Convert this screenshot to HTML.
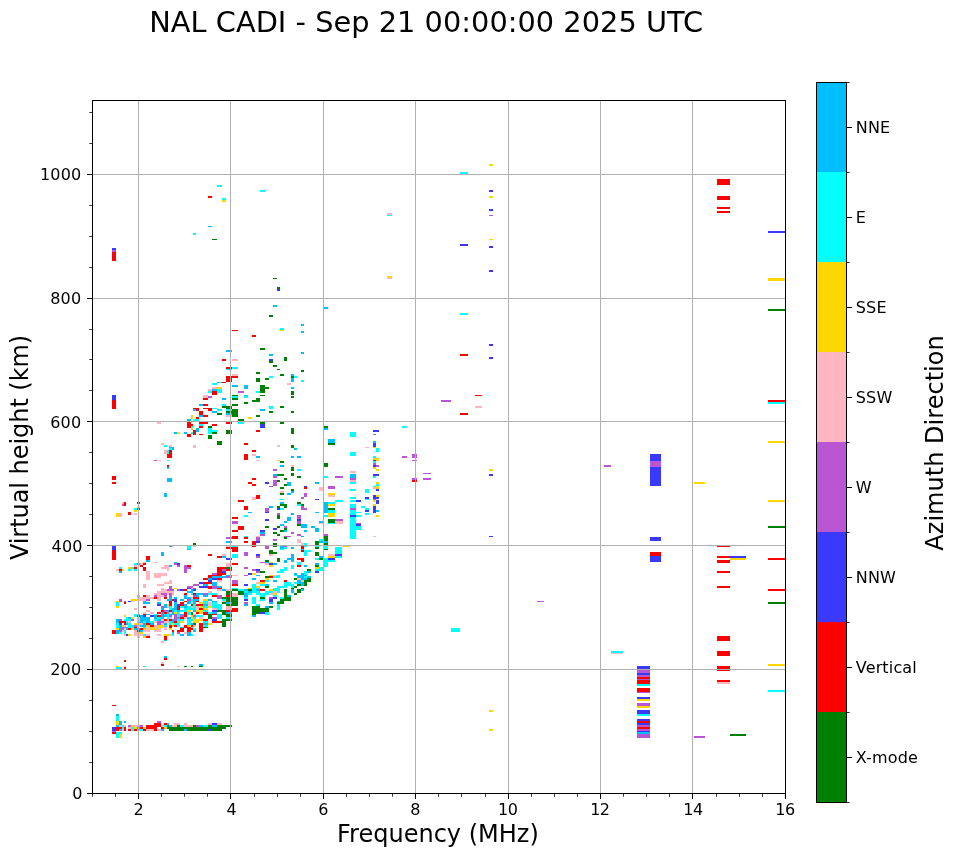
<!DOCTYPE html>
<html lang="en"><head><meta charset="utf-8"><title>NAL CADI - Sep 21 00:00:00 2025 UTC</title>
<style>html,body{margin:0;padding:0;background:#fff}body{width:958px;height:857px;overflow:hidden}svg{display:block}text{font-family:"DejaVu Sans","Liberation Sans",sans-serif;fill:#000}</style></head><body>
<svg width="958" height="857" viewBox="0 0 958 857">
<rect width="958" height="857" fill="#fff"/>
<g shape-rendering="crispEdges">
<g fill="#ff0000">
<rect x="112" y="705" width="4" height="1"/><rect x="154" y="723" width="7" height="2"/><rect x="164" y="723" width="3" height="2"/><rect x="146" y="725" width="15" height="2"/><rect x="116" y="727" width="6" height="2"/><rect x="124" y="727" width="2" height="2"/><rect x="140" y="727" width="3" height="2"/><rect x="146" y="727" width="11" height="2"/><rect x="161" y="727" width="3" height="2"/><rect x="116" y="729" width="3" height="2"/><rect x="124" y="729" width="2" height="2"/><rect x="128" y="729" width="3" height="2"/><rect x="134" y="729" width="3" height="2"/><rect x="143" y="729" width="3" height="2"/><rect x="154" y="729" width="3" height="2"/><rect x="112" y="732" width="4" height="2"/><rect x="143" y="606" width="3" height="2"/><rect x="177" y="606" width="3" height="2"/><rect x="177" y="608" width="3" height="2"/><rect x="199" y="608" width="4" height="2"/><rect x="161" y="610" width="3" height="2"/><rect x="169" y="610" width="3" height="2"/><rect x="157" y="612" width="4" height="2"/><rect x="164" y="612" width="3" height="2"/><rect x="184" y="612" width="3" height="2"/><rect x="196" y="612" width="3" height="2"/><rect x="143" y="614" width="3" height="1"/><rect x="184" y="614" width="3" height="1"/><rect x="137" y="615" width="3" height="2"/><rect x="157" y="615" width="4" height="2"/><rect x="184" y="615" width="3" height="2"/><rect x="180" y="617" width="4" height="2"/><rect x="164" y="619" width="3" height="2"/><rect x="169" y="619" width="3" height="2"/><rect x="119" y="621" width="7" height="2"/><rect x="174" y="621" width="3" height="2"/><rect x="124" y="623" width="2" height="2"/><rect x="146" y="623" width="4" height="2"/><rect x="199" y="623" width="4" height="2"/><rect x="150" y="625" width="4" height="2"/><rect x="169" y="625" width="3" height="2"/><rect x="174" y="625" width="3" height="2"/><rect x="184" y="625" width="3" height="2"/><rect x="191" y="625" width="2" height="2"/><rect x="199" y="625" width="4" height="2"/><rect x="134" y="627" width="3" height="1"/><rect x="169" y="627" width="3" height="1"/><rect x="184" y="627" width="7" height="1"/><rect x="199" y="627" width="4" height="1"/><rect x="128" y="628" width="3" height="2"/><rect x="140" y="628" width="3" height="2"/><rect x="180" y="628" width="4" height="2"/><rect x="187" y="628" width="6" height="2"/><rect x="199" y="628" width="4" height="2"/><rect x="112" y="630" width="4" height="2"/><rect x="137" y="630" width="3" height="2"/><rect x="172" y="630" width="2" height="2"/><rect x="177" y="630" width="7" height="2"/><rect x="187" y="630" width="4" height="2"/><rect x="199" y="630" width="4" height="2"/><rect x="112" y="632" width="4" height="2"/><rect x="146" y="636" width="4" height="2"/><rect x="164" y="636" width="3" height="2"/><rect x="164" y="638" width="3" height="2"/><rect x="232" y="608" width="6" height="2"/><rect x="226" y="610" width="12" height="2"/><rect x="203" y="612" width="5" height="2"/><rect x="203" y="614" width="5" height="1"/><rect x="212" y="614" width="5" height="1"/><rect x="203" y="619" width="5" height="2"/><rect x="212" y="621" width="10" height="2"/><rect x="140" y="565" width="3" height="2"/><rect x="187" y="565" width="4" height="2"/><rect x="134" y="567" width="3" height="2"/><rect x="143" y="567" width="3" height="2"/><rect x="217" y="567" width="9" height="2"/><rect x="119" y="569" width="3" height="2"/><rect x="143" y="569" width="3" height="2"/><rect x="217" y="569" width="5" height="2"/><rect x="226" y="569" width="6" height="2"/><rect x="217" y="571" width="5" height="2"/><rect x="217" y="573" width="9" height="2"/><rect x="208" y="575" width="14" height="1"/><rect x="208" y="576" width="4" height="2"/><rect x="203" y="578" width="5" height="2"/><rect x="217" y="578" width="5" height="2"/><rect x="203" y="582" width="9" height="2"/><rect x="232" y="584" width="6" height="2"/><rect x="208" y="586" width="4" height="2"/><rect x="208" y="588" width="4" height="1"/><rect x="217" y="588" width="5" height="1"/><rect x="184" y="589" width="3" height="2"/><rect x="184" y="593" width="3" height="2"/><rect x="193" y="593" width="3" height="2"/><rect x="143" y="595" width="3" height="2"/><rect x="212" y="595" width="5" height="2"/><rect x="226" y="595" width="6" height="2"/><rect x="154" y="597" width="3" height="2"/><rect x="164" y="597" width="3" height="2"/><rect x="193" y="597" width="6" height="2"/><rect x="172" y="599" width="2" height="2"/><rect x="169" y="601" width="3" height="1"/><rect x="184" y="601" width="3" height="1"/><rect x="196" y="601" width="3" height="1"/><rect x="124" y="602" width="2" height="2"/><rect x="169" y="602" width="3" height="2"/><rect x="180" y="602" width="4" height="2"/><rect x="169" y="604" width="3" height="2"/><rect x="180" y="604" width="4" height="2"/><rect x="196" y="604" width="7" height="2"/><rect x="260" y="580" width="5" height="2"/><rect x="284" y="580" width="3" height="2"/><rect x="260" y="589" width="5" height="2"/><rect x="252" y="541" width="4" height="2"/><rect x="252" y="543" width="4" height="2"/><rect x="252" y="545" width="4" height="2"/><rect x="301" y="545" width="3" height="2"/><rect x="301" y="547" width="3" height="2"/><rect x="301" y="550" width="3" height="2"/><rect x="297" y="558" width="7" height="2"/><rect x="301" y="560" width="3" height="2"/><rect x="297" y="565" width="4" height="2"/><rect x="269" y="576" width="4" height="2"/><rect x="252" y="478" width="4" height="2"/><rect x="248" y="482" width="4" height="2"/><rect x="252" y="484" width="4" height="2"/><rect x="304" y="487" width="3" height="2"/><rect x="256" y="495" width="4" height="2"/><rect x="256" y="497" width="4" height="2"/><rect x="232" y="330" width="6" height="1"/><rect x="252" y="335" width="4" height="2"/><rect x="226" y="367" width="6" height="2"/><rect x="226" y="376" width="12" height="2"/><rect x="226" y="378" width="6" height="2"/><rect x="226" y="380" width="6" height="2"/><rect x="256" y="430" width="4" height="2"/><rect x="252" y="450" width="4" height="2"/><rect x="112" y="252" width="4" height="9"/><rect x="112" y="400" width="4" height="9"/><rect x="222" y="359" width="4" height="2"/><rect x="222" y="382" width="4" height="1"/><rect x="212" y="391" width="5" height="2"/><rect x="212" y="393" width="5" height="2"/><rect x="203" y="398" width="5" height="2"/><rect x="203" y="404" width="5" height="2"/><rect x="193" y="408" width="6" height="1"/><rect x="203" y="408" width="9" height="1"/><rect x="196" y="409" width="3" height="2"/><rect x="208" y="409" width="4" height="2"/><rect x="199" y="411" width="4" height="2"/><rect x="199" y="413" width="4" height="2"/><rect x="203" y="415" width="5" height="2"/><rect x="196" y="417" width="3" height="2"/><rect x="187" y="422" width="4" height="2"/><rect x="199" y="422" width="9" height="2"/><rect x="226" y="422" width="6" height="2"/><rect x="187" y="424" width="6" height="2"/><rect x="212" y="424" width="5" height="2"/><rect x="187" y="426" width="4" height="2"/><rect x="199" y="426" width="4" height="2"/><rect x="193" y="430" width="3" height="2"/><rect x="193" y="432" width="3" height="2"/><rect x="187" y="434" width="4" height="1"/><rect x="193" y="434" width="3" height="1"/><rect x="199" y="434" width="4" height="1"/><rect x="187" y="435" width="4" height="2"/><rect x="244" y="443" width="4" height="2"/><rect x="169" y="450" width="3" height="2"/><rect x="169" y="452" width="3" height="2"/><rect x="167" y="454" width="5" height="2"/><rect x="244" y="454" width="4" height="2"/><rect x="167" y="456" width="5" height="2"/><rect x="244" y="456" width="4" height="2"/><rect x="244" y="458" width="4" height="2"/><rect x="167" y="465" width="2" height="2"/><rect x="112" y="476" width="4" height="2"/><rect x="112" y="478" width="4" height="2"/><rect x="112" y="482" width="4" height="2"/><rect x="238" y="500" width="6" height="2"/><rect x="124" y="502" width="2" height="2"/><rect x="137" y="502" width="3" height="2"/><rect x="124" y="504" width="2" height="2"/><rect x="244" y="506" width="4" height="2"/><rect x="137" y="508" width="3" height="2"/><rect x="244" y="508" width="4" height="2"/><rect x="128" y="512" width="3" height="1"/><rect x="128" y="513" width="3" height="2"/><rect x="232" y="517" width="6" height="2"/><rect x="238" y="526" width="6" height="2"/><rect x="238" y="528" width="6" height="2"/><rect x="232" y="530" width="6" height="2"/><rect x="232" y="536" width="6" height="1"/><rect x="232" y="537" width="6" height="2"/><rect x="244" y="537" width="4" height="2"/><rect x="244" y="541" width="4" height="2"/><rect x="226" y="547" width="12" height="2"/><rect x="232" y="549" width="6" height="1"/><rect x="112" y="550" width="4" height="2"/><rect x="232" y="550" width="6" height="2"/><rect x="112" y="552" width="4" height="2"/><rect x="112" y="554" width="4" height="2"/><rect x="208" y="554" width="4" height="2"/><rect x="112" y="556" width="4" height="2"/><rect x="146" y="556" width="4" height="2"/><rect x="217" y="556" width="5" height="2"/><rect x="112" y="558" width="4" height="2"/><rect x="146" y="558" width="4" height="2"/><rect x="143" y="563" width="3" height="2"/><rect x="232" y="563" width="6" height="2"/><rect x="164" y="658" width="3" height="2"/><rect x="124" y="660" width="2" height="2"/><rect x="161" y="664" width="3" height="2"/><rect x="124" y="667" width="2" height="2"/><rect x="460" y="354" width="8" height="2"/><rect x="475" y="395" width="7" height="1"/><rect x="460" y="413" width="8" height="2"/><rect x="412" y="480" width="5" height="2"/><rect x="717" y="179" width="13" height="6"/><rect x="717" y="196" width="13" height="4"/><rect x="717" y="207" width="13" height="2"/><rect x="717" y="211" width="13" height="2"/><rect x="768" y="400" width="17" height="2"/><rect x="717" y="545" width="13" height="2"/><rect x="717" y="556" width="13" height="2"/><rect x="768" y="558" width="17" height="2"/><rect x="717" y="560" width="13" height="3"/><rect x="717" y="571" width="13" height="2"/><rect x="717" y="586" width="13" height="2"/><rect x="768" y="589" width="17" height="2"/><rect x="717" y="636" width="13" height="5"/><rect x="717" y="651" width="13" height="5"/><rect x="717" y="666" width="13" height="5"/><rect x="717" y="680" width="13" height="2"/><rect x="637" y="677" width="13" height="2"/><rect x="637" y="680" width="13" height="4"/><rect x="637" y="688" width="13" height="4"/><rect x="637" y="721" width="13" height="2"/><rect x="637" y="727" width="13" height="2"/><rect x="650" y="552" width="11" height="4"/><rect x="208" y="196" width="4" height="2"/>
</g>
<g fill="#00bfff">
<rect x="116" y="714" width="3" height="2"/><rect x="119" y="721" width="3" height="2"/><rect x="124" y="721" width="2" height="2"/><rect x="119" y="723" width="3" height="2"/><rect x="167" y="723" width="2" height="2"/><rect x="116" y="725" width="3" height="2"/><rect x="169" y="725" width="3" height="2"/><rect x="199" y="725" width="4" height="2"/><rect x="212" y="725" width="5" height="2"/><rect x="137" y="727" width="3" height="2"/><rect x="119" y="729" width="3" height="2"/><rect x="161" y="729" width="3" height="2"/><rect x="184" y="729" width="3" height="2"/><rect x="164" y="606" width="3" height="2"/><rect x="174" y="606" width="3" height="2"/><rect x="184" y="606" width="3" height="2"/><rect x="161" y="608" width="3" height="2"/><rect x="172" y="608" width="5" height="2"/><rect x="167" y="610" width="2" height="2"/><rect x="172" y="610" width="2" height="2"/><rect x="177" y="610" width="3" height="2"/><rect x="193" y="610" width="3" height="2"/><rect x="161" y="612" width="3" height="2"/><rect x="167" y="612" width="2" height="2"/><rect x="172" y="612" width="2" height="2"/><rect x="146" y="614" width="4" height="1"/><rect x="169" y="614" width="5" height="1"/><rect x="180" y="614" width="4" height="1"/><rect x="140" y="615" width="3" height="2"/><rect x="154" y="615" width="3" height="2"/><rect x="161" y="615" width="6" height="2"/><rect x="128" y="617" width="3" height="2"/><rect x="140" y="617" width="10" height="2"/><rect x="154" y="617" width="3" height="2"/><rect x="161" y="617" width="3" height="2"/><rect x="177" y="617" width="3" height="2"/><rect x="187" y="617" width="4" height="2"/><rect x="116" y="619" width="3" height="2"/><rect x="140" y="619" width="10" height="2"/><rect x="157" y="619" width="4" height="2"/><rect x="172" y="619" width="2" height="2"/><rect x="116" y="621" width="3" height="2"/><rect x="140" y="621" width="3" height="2"/><rect x="146" y="621" width="4" height="2"/><rect x="172" y="621" width="2" height="2"/><rect x="126" y="623" width="2" height="2"/><rect x="143" y="623" width="3" height="2"/><rect x="150" y="623" width="4" height="2"/><rect x="164" y="623" width="3" height="2"/><rect x="191" y="623" width="2" height="2"/><rect x="119" y="625" width="3" height="2"/><rect x="140" y="625" width="6" height="2"/><rect x="119" y="627" width="3" height="1"/><rect x="124" y="627" width="2" height="1"/><rect x="180" y="627" width="4" height="1"/><rect x="119" y="628" width="3" height="2"/><rect x="126" y="628" width="2" height="2"/><rect x="134" y="628" width="3" height="2"/><rect x="116" y="630" width="3" height="2"/><rect x="140" y="630" width="3" height="2"/><rect x="193" y="630" width="3" height="2"/><rect x="116" y="632" width="3" height="2"/><rect x="172" y="632" width="2" height="2"/><rect x="187" y="632" width="4" height="2"/><rect x="180" y="634" width="4" height="2"/><rect x="187" y="634" width="4" height="2"/><rect x="164" y="640" width="3" height="1"/><rect x="212" y="612" width="5" height="2"/><rect x="226" y="612" width="6" height="2"/><rect x="203" y="623" width="5" height="2"/><rect x="169" y="565" width="3" height="2"/><rect x="119" y="571" width="3" height="2"/><rect x="226" y="575" width="6" height="1"/><rect x="212" y="576" width="14" height="2"/><rect x="208" y="578" width="4" height="2"/><rect x="212" y="582" width="5" height="2"/><rect x="203" y="584" width="5" height="2"/><rect x="212" y="584" width="5" height="2"/><rect x="217" y="586" width="5" height="2"/><rect x="191" y="589" width="2" height="2"/><rect x="222" y="589" width="4" height="2"/><rect x="244" y="589" width="4" height="2"/><rect x="187" y="591" width="6" height="2"/><rect x="248" y="591" width="4" height="2"/><rect x="196" y="593" width="7" height="2"/><rect x="244" y="593" width="4" height="2"/><rect x="184" y="595" width="3" height="2"/><rect x="196" y="595" width="3" height="2"/><rect x="203" y="595" width="5" height="2"/><rect x="244" y="595" width="4" height="2"/><rect x="169" y="597" width="3" height="2"/><rect x="174" y="597" width="3" height="2"/><rect x="184" y="597" width="7" height="2"/><rect x="167" y="599" width="5" height="2"/><rect x="180" y="599" width="4" height="2"/><rect x="193" y="599" width="6" height="2"/><rect x="208" y="599" width="4" height="2"/><rect x="143" y="601" width="3" height="1"/><rect x="187" y="601" width="4" height="1"/><rect x="193" y="601" width="3" height="1"/><rect x="212" y="601" width="5" height="1"/><rect x="143" y="602" width="7" height="2"/><rect x="157" y="602" width="4" height="2"/><rect x="174" y="602" width="3" height="2"/><rect x="187" y="602" width="4" height="2"/><rect x="193" y="602" width="3" height="2"/><rect x="226" y="602" width="6" height="2"/><rect x="164" y="604" width="3" height="2"/><rect x="174" y="604" width="3" height="2"/><rect x="184" y="604" width="3" height="2"/><rect x="203" y="604" width="5" height="2"/><rect x="244" y="604" width="4" height="2"/><rect x="273" y="580" width="4" height="2"/><rect x="297" y="580" width="4" height="2"/><rect x="297" y="582" width="7" height="2"/><rect x="265" y="584" width="4" height="2"/><rect x="301" y="584" width="3" height="2"/><rect x="256" y="589" width="4" height="2"/><rect x="291" y="589" width="3" height="2"/><rect x="301" y="589" width="3" height="2"/><rect x="291" y="591" width="3" height="2"/><rect x="287" y="595" width="4" height="2"/><rect x="277" y="601" width="3" height="1"/><rect x="269" y="602" width="4" height="2"/><rect x="265" y="606" width="4" height="2"/><rect x="252" y="615" width="4" height="2"/><rect x="319" y="541" width="9" height="2"/><rect x="280" y="545" width="4" height="2"/><rect x="280" y="547" width="4" height="2"/><rect x="291" y="547" width="3" height="2"/><rect x="301" y="549" width="3" height="1"/><rect x="291" y="554" width="3" height="2"/><rect x="291" y="556" width="3" height="2"/><rect x="319" y="556" width="4" height="2"/><rect x="287" y="558" width="7" height="2"/><rect x="284" y="560" width="3" height="2"/><rect x="291" y="560" width="3" height="2"/><rect x="265" y="562" width="4" height="1"/><rect x="284" y="562" width="3" height="1"/><rect x="273" y="563" width="4" height="2"/><rect x="315" y="563" width="4" height="2"/><rect x="304" y="565" width="3" height="2"/><rect x="307" y="571" width="4" height="2"/><rect x="294" y="573" width="3" height="2"/><rect x="301" y="573" width="3" height="2"/><rect x="256" y="575" width="4" height="1"/><rect x="297" y="575" width="10" height="1"/><rect x="297" y="576" width="7" height="2"/><rect x="307" y="576" width="4" height="2"/><rect x="252" y="578" width="4" height="2"/><rect x="301" y="578" width="6" height="2"/><rect x="323" y="428" width="5" height="2"/><rect x="328" y="439" width="7" height="2"/><rect x="328" y="441" width="7" height="2"/><rect x="373" y="441" width="3" height="2"/><rect x="350" y="474" width="6" height="2"/><rect x="350" y="476" width="6" height="2"/><rect x="323" y="502" width="5" height="2"/><rect x="323" y="504" width="5" height="2"/><rect x="323" y="506" width="5" height="2"/><rect x="323" y="508" width="5" height="2"/><rect x="323" y="510" width="5" height="2"/><rect x="376" y="510" width="3" height="2"/><rect x="323" y="512" width="5" height="1"/><rect x="280" y="465" width="4" height="2"/><rect x="273" y="474" width="4" height="2"/><rect x="287" y="482" width="4" height="2"/><rect x="315" y="482" width="4" height="2"/><rect x="287" y="484" width="4" height="2"/><rect x="291" y="491" width="3" height="2"/><rect x="287" y="493" width="4" height="2"/><rect x="280" y="502" width="4" height="2"/><rect x="269" y="506" width="4" height="2"/><rect x="248" y="512" width="4" height="1"/><rect x="315" y="512" width="4" height="1"/><rect x="291" y="513" width="3" height="2"/><rect x="287" y="517" width="4" height="2"/><rect x="287" y="519" width="4" height="2"/><rect x="284" y="521" width="3" height="2"/><rect x="319" y="521" width="4" height="2"/><rect x="280" y="524" width="4" height="2"/><rect x="301" y="524" width="6" height="2"/><rect x="301" y="526" width="6" height="2"/><rect x="311" y="526" width="4" height="2"/><rect x="315" y="528" width="4" height="2"/><rect x="284" y="530" width="3" height="2"/><rect x="304" y="530" width="3" height="2"/><rect x="315" y="530" width="4" height="2"/><rect x="260" y="532" width="5" height="2"/><rect x="301" y="536" width="3" height="1"/><rect x="273" y="305" width="4" height="2"/><rect x="323" y="307" width="5" height="2"/><rect x="301" y="324" width="3" height="2"/><rect x="301" y="331" width="3" height="2"/><rect x="226" y="350" width="6" height="2"/><rect x="301" y="352" width="3" height="2"/><rect x="269" y="354" width="4" height="2"/><rect x="291" y="374" width="3" height="2"/><rect x="291" y="378" width="3" height="2"/><rect x="291" y="380" width="3" height="2"/><rect x="232" y="385" width="6" height="2"/><rect x="244" y="385" width="4" height="2"/><rect x="244" y="387" width="4" height="2"/><rect x="291" y="387" width="3" height="2"/><rect x="244" y="395" width="4" height="1"/><rect x="260" y="409" width="5" height="2"/><rect x="226" y="413" width="6" height="2"/><rect x="294" y="448" width="3" height="2"/><rect x="256" y="456" width="4" height="2"/><rect x="291" y="456" width="3" height="2"/><rect x="297" y="456" width="4" height="2"/><rect x="217" y="382" width="5" height="1"/><rect x="212" y="389" width="5" height="2"/><rect x="222" y="398" width="4" height="2"/><rect x="199" y="404" width="4" height="2"/><rect x="193" y="409" width="3" height="2"/><rect x="212" y="411" width="5" height="2"/><rect x="199" y="415" width="4" height="2"/><rect x="187" y="419" width="4" height="2"/><rect x="196" y="428" width="3" height="2"/><rect x="196" y="430" width="3" height="2"/><rect x="174" y="432" width="3" height="2"/><rect x="184" y="432" width="3" height="2"/><rect x="169" y="447" width="5" height="1"/><rect x="172" y="448" width="2" height="2"/><rect x="167" y="467" width="2" height="2"/><rect x="167" y="478" width="5" height="2"/><rect x="167" y="480" width="5" height="2"/><rect x="164" y="493" width="3" height="2"/><rect x="164" y="495" width="3" height="2"/><rect x="226" y="541" width="6" height="2"/><rect x="169" y="545" width="3" height="2"/><rect x="187" y="549" width="4" height="1"/><rect x="161" y="552" width="3" height="2"/><rect x="161" y="554" width="3" height="2"/><rect x="222" y="556" width="4" height="2"/><rect x="146" y="560" width="4" height="2"/><rect x="174" y="562" width="3" height="1"/><rect x="137" y="563" width="3" height="2"/><rect x="164" y="656" width="3" height="2"/><rect x="199" y="664" width="4" height="2"/><rect x="637" y="732" width="13" height="2"/><rect x="208" y="226" width="4" height="1"/>
</g>
<g fill="#00ffff">
<rect x="116" y="716" width="3" height="2"/><rect x="116" y="718" width="3" height="1"/><rect x="116" y="719" width="3" height="2"/><rect x="122" y="725" width="2" height="2"/><rect x="137" y="725" width="3" height="2"/><rect x="164" y="725" width="3" height="2"/><rect x="180" y="725" width="4" height="2"/><rect x="203" y="725" width="5" height="2"/><rect x="122" y="727" width="2" height="2"/><rect x="131" y="727" width="3" height="2"/><rect x="131" y="729" width="3" height="2"/><rect x="137" y="729" width="6" height="2"/><rect x="116" y="732" width="6" height="2"/><rect x="116" y="734" width="3" height="2"/><rect x="116" y="736" width="3" height="2"/><rect x="169" y="606" width="3" height="2"/><rect x="180" y="606" width="4" height="2"/><rect x="187" y="606" width="4" height="2"/><rect x="193" y="606" width="3" height="2"/><rect x="169" y="608" width="3" height="2"/><rect x="184" y="608" width="12" height="2"/><rect x="174" y="610" width="3" height="2"/><rect x="180" y="610" width="7" height="2"/><rect x="177" y="612" width="3" height="2"/><rect x="187" y="612" width="4" height="2"/><rect x="134" y="614" width="6" height="1"/><rect x="154" y="614" width="3" height="1"/><rect x="164" y="614" width="5" height="1"/><rect x="177" y="614" width="3" height="1"/><rect x="187" y="614" width="4" height="1"/><rect x="134" y="615" width="3" height="2"/><rect x="167" y="615" width="2" height="2"/><rect x="177" y="615" width="3" height="2"/><rect x="196" y="615" width="7" height="2"/><rect x="126" y="617" width="2" height="2"/><rect x="157" y="617" width="4" height="2"/><rect x="167" y="617" width="2" height="2"/><rect x="193" y="617" width="3" height="2"/><rect x="124" y="619" width="7" height="2"/><rect x="154" y="619" width="3" height="2"/><rect x="177" y="619" width="7" height="2"/><rect x="187" y="619" width="6" height="2"/><rect x="126" y="621" width="2" height="2"/><rect x="137" y="621" width="3" height="2"/><rect x="143" y="621" width="3" height="2"/><rect x="150" y="621" width="4" height="2"/><rect x="169" y="621" width="3" height="2"/><rect x="177" y="621" width="3" height="2"/><rect x="187" y="621" width="4" height="2"/><rect x="116" y="623" width="3" height="2"/><rect x="128" y="623" width="3" height="2"/><rect x="169" y="623" width="3" height="2"/><rect x="174" y="623" width="6" height="2"/><rect x="187" y="623" width="4" height="2"/><rect x="116" y="625" width="3" height="2"/><rect x="128" y="625" width="6" height="2"/><rect x="164" y="625" width="3" height="2"/><rect x="177" y="625" width="3" height="2"/><rect x="116" y="627" width="3" height="1"/><rect x="128" y="627" width="6" height="1"/><rect x="143" y="627" width="3" height="1"/><rect x="191" y="627" width="2" height="1"/><rect x="193" y="628" width="3" height="2"/><rect x="124" y="630" width="2" height="2"/><rect x="119" y="632" width="3" height="2"/><rect x="124" y="632" width="2" height="2"/><rect x="143" y="634" width="3" height="2"/><rect x="172" y="634" width="2" height="2"/><rect x="191" y="634" width="2" height="2"/><rect x="203" y="606" width="5" height="2"/><rect x="212" y="606" width="10" height="2"/><rect x="217" y="608" width="5" height="2"/><rect x="203" y="610" width="5" height="2"/><rect x="208" y="612" width="4" height="2"/><rect x="217" y="614" width="5" height="1"/><rect x="217" y="615" width="5" height="2"/><rect x="217" y="617" width="5" height="2"/><rect x="226" y="617" width="6" height="2"/><rect x="203" y="621" width="5" height="2"/><rect x="203" y="625" width="5" height="2"/><rect x="119" y="567" width="3" height="2"/><rect x="131" y="567" width="3" height="2"/><rect x="128" y="569" width="3" height="2"/><rect x="134" y="569" width="3" height="2"/><rect x="232" y="588" width="6" height="1"/><rect x="238" y="589" width="6" height="2"/><rect x="244" y="591" width="4" height="2"/><rect x="191" y="593" width="2" height="2"/><rect x="208" y="593" width="9" height="2"/><rect x="248" y="593" width="4" height="2"/><rect x="137" y="595" width="3" height="2"/><rect x="244" y="597" width="4" height="2"/><rect x="191" y="599" width="2" height="2"/><rect x="222" y="599" width="4" height="2"/><rect x="191" y="601" width="2" height="1"/><rect x="203" y="601" width="5" height="1"/><rect x="116" y="602" width="3" height="2"/><rect x="203" y="602" width="5" height="2"/><rect x="212" y="602" width="5" height="2"/><rect x="116" y="604" width="3" height="2"/><rect x="193" y="604" width="3" height="2"/><rect x="212" y="604" width="10" height="2"/><rect x="265" y="580" width="4" height="2"/><rect x="284" y="582" width="7" height="2"/><rect x="294" y="582" width="3" height="2"/><rect x="252" y="584" width="4" height="2"/><rect x="260" y="584" width="5" height="2"/><rect x="284" y="584" width="10" height="2"/><rect x="252" y="586" width="4" height="2"/><rect x="277" y="586" width="10" height="2"/><rect x="291" y="586" width="3" height="2"/><rect x="252" y="588" width="8" height="1"/><rect x="273" y="588" width="7" height="1"/><rect x="252" y="589" width="4" height="2"/><rect x="273" y="589" width="7" height="2"/><rect x="252" y="591" width="8" height="2"/><rect x="265" y="591" width="8" height="2"/><rect x="277" y="591" width="3" height="2"/><rect x="256" y="593" width="13" height="2"/><rect x="260" y="595" width="5" height="2"/><rect x="273" y="595" width="4" height="2"/><rect x="252" y="597" width="4" height="2"/><rect x="280" y="597" width="4" height="2"/><rect x="252" y="599" width="4" height="2"/><rect x="260" y="599" width="5" height="2"/><rect x="252" y="601" width="4" height="1"/><rect x="252" y="602" width="4" height="2"/><rect x="256" y="604" width="4" height="2"/><rect x="277" y="604" width="3" height="2"/><rect x="277" y="606" width="3" height="2"/><rect x="277" y="608" width="3" height="2"/><rect x="265" y="612" width="4" height="2"/><rect x="265" y="614" width="4" height="1"/><rect x="319" y="539" width="4" height="2"/><rect x="304" y="543" width="3" height="2"/><rect x="304" y="545" width="3" height="2"/><rect x="315" y="545" width="4" height="2"/><rect x="323" y="545" width="5" height="2"/><rect x="284" y="547" width="3" height="2"/><rect x="323" y="547" width="5" height="2"/><rect x="335" y="547" width="7" height="2"/><rect x="280" y="549" width="4" height="1"/><rect x="335" y="549" width="7" height="1"/><rect x="304" y="550" width="7" height="2"/><rect x="335" y="550" width="7" height="2"/><rect x="304" y="552" width="3" height="2"/><rect x="335" y="552" width="7" height="2"/><rect x="304" y="554" width="3" height="2"/><rect x="335" y="556" width="7" height="2"/><rect x="315" y="558" width="4" height="2"/><rect x="323" y="558" width="5" height="2"/><rect x="323" y="560" width="12" height="2"/><rect x="297" y="562" width="4" height="1"/><rect x="323" y="562" width="5" height="1"/><rect x="297" y="563" width="4" height="2"/><rect x="323" y="563" width="5" height="2"/><rect x="291" y="565" width="3" height="2"/><rect x="323" y="565" width="5" height="2"/><rect x="284" y="567" width="3" height="2"/><rect x="291" y="567" width="3" height="2"/><rect x="319" y="567" width="4" height="2"/><rect x="280" y="569" width="7" height="2"/><rect x="315" y="569" width="8" height="2"/><rect x="277" y="571" width="7" height="2"/><rect x="304" y="571" width="3" height="2"/><rect x="304" y="573" width="3" height="2"/><rect x="277" y="575" width="3" height="1"/><rect x="294" y="575" width="3" height="1"/><rect x="273" y="576" width="7" height="2"/><rect x="304" y="576" width="3" height="2"/><rect x="350" y="432" width="6" height="2"/><rect x="350" y="434" width="6" height="1"/><rect x="350" y="435" width="6" height="2"/><rect x="376" y="448" width="3" height="2"/><rect x="376" y="450" width="3" height="2"/><rect x="350" y="452" width="6" height="2"/><rect x="350" y="454" width="6" height="2"/><rect x="373" y="456" width="3" height="2"/><rect x="373" y="461" width="3" height="2"/><rect x="323" y="476" width="5" height="2"/><rect x="373" y="476" width="3" height="2"/><rect x="350" y="482" width="6" height="2"/><rect x="376" y="484" width="3" height="2"/><rect x="373" y="486" width="3" height="1"/><rect x="350" y="489" width="6" height="2"/><rect x="365" y="489" width="4" height="2"/><rect x="365" y="491" width="4" height="2"/><rect x="350" y="497" width="6" height="2"/><rect x="365" y="499" width="4" height="1"/><rect x="335" y="500" width="8" height="2"/><rect x="350" y="500" width="6" height="2"/><rect x="328" y="502" width="7" height="2"/><rect x="350" y="504" width="6" height="2"/><rect x="350" y="506" width="6" height="2"/><rect x="361" y="506" width="4" height="2"/><rect x="365" y="508" width="4" height="2"/><rect x="328" y="510" width="7" height="2"/><rect x="350" y="510" width="6" height="2"/><rect x="328" y="512" width="7" height="1"/><rect x="350" y="512" width="11" height="1"/><rect x="350" y="513" width="6" height="2"/><rect x="365" y="513" width="4" height="2"/><rect x="323" y="515" width="5" height="2"/><rect x="356" y="515" width="5" height="2"/><rect x="350" y="517" width="6" height="2"/><rect x="350" y="519" width="6" height="2"/><rect x="350" y="521" width="6" height="2"/><rect x="350" y="523" width="6" height="1"/><rect x="350" y="524" width="6" height="2"/><rect x="350" y="526" width="11" height="2"/><rect x="350" y="528" width="11" height="2"/><rect x="350" y="530" width="6" height="2"/><rect x="350" y="532" width="6" height="2"/><rect x="350" y="534" width="6" height="2"/><rect x="350" y="536" width="6" height="1"/><rect x="350" y="537" width="6" height="2"/><rect x="297" y="469" width="4" height="2"/><rect x="280" y="499" width="4" height="1"/><rect x="297" y="504" width="4" height="2"/><rect x="280" y="508" width="4" height="2"/><rect x="328" y="523" width="7" height="1"/><rect x="280" y="328" width="4" height="2"/><rect x="232" y="367" width="6" height="2"/><rect x="226" y="369" width="6" height="1"/><rect x="269" y="376" width="4" height="2"/><rect x="294" y="376" width="3" height="2"/><rect x="301" y="380" width="3" height="2"/><rect x="256" y="391" width="4" height="2"/><rect x="232" y="396" width="6" height="2"/><rect x="244" y="396" width="4" height="2"/><rect x="269" y="406" width="4" height="2"/><rect x="269" y="408" width="4" height="1"/><rect x="226" y="409" width="6" height="2"/><rect x="212" y="383" width="5" height="2"/><rect x="217" y="389" width="5" height="2"/><rect x="208" y="391" width="4" height="2"/><rect x="217" y="391" width="5" height="2"/><rect x="222" y="404" width="4" height="2"/><rect x="212" y="408" width="5" height="1"/><rect x="217" y="409" width="5" height="2"/><rect x="193" y="419" width="6" height="2"/><rect x="199" y="424" width="4" height="2"/><rect x="191" y="426" width="2" height="2"/><rect x="208" y="428" width="4" height="2"/><rect x="208" y="430" width="9" height="2"/><rect x="191" y="432" width="2" height="2"/><rect x="208" y="432" width="4" height="2"/><rect x="164" y="445" width="3" height="2"/><rect x="169" y="448" width="3" height="2"/><rect x="167" y="450" width="2" height="2"/><rect x="167" y="452" width="2" height="2"/><rect x="167" y="460" width="2" height="1"/><rect x="134" y="508" width="3" height="2"/><rect x="244" y="515" width="4" height="2"/><rect x="244" y="536" width="4" height="1"/><rect x="187" y="545" width="4" height="2"/><rect x="232" y="545" width="6" height="2"/><rect x="187" y="547" width="4" height="2"/><rect x="232" y="554" width="6" height="2"/><rect x="232" y="556" width="6" height="2"/><rect x="134" y="563" width="3" height="2"/><rect x="143" y="666" width="3" height="1"/><rect x="116" y="667" width="6" height="2"/><rect x="387" y="215" width="5" height="1"/><rect x="238" y="422" width="6" height="2"/><rect x="460" y="172" width="8" height="2"/><rect x="460" y="313" width="8" height="2"/><rect x="402" y="426" width="5" height="2"/><rect x="451" y="628" width="9" height="4"/><rect x="768" y="402" width="17" height="2"/><rect x="768" y="690" width="17" height="2"/><rect x="611" y="651" width="12" height="2"/><rect x="637" y="684" width="13" height="2"/><rect x="637" y="714" width="13" height="2"/><rect x="217" y="185" width="5" height="2"/><rect x="260" y="190" width="5" height="2"/><rect x="222" y="198" width="4" height="2"/><rect x="193" y="233" width="3" height="2"/>
</g>
<g fill="#ffd700">
<rect x="116" y="721" width="3" height="2"/><rect x="116" y="723" width="3" height="2"/><rect x="131" y="725" width="3" height="2"/><rect x="134" y="727" width="3" height="2"/><rect x="143" y="727" width="3" height="2"/><rect x="164" y="727" width="3" height="2"/><rect x="119" y="734" width="3" height="2"/><rect x="119" y="736" width="3" height="2"/><rect x="116" y="606" width="3" height="2"/><rect x="199" y="606" width="4" height="2"/><rect x="187" y="610" width="4" height="2"/><rect x="196" y="610" width="7" height="2"/><rect x="174" y="612" width="3" height="2"/><rect x="199" y="612" width="4" height="2"/><rect x="124" y="615" width="2" height="2"/><rect x="191" y="615" width="2" height="2"/><rect x="131" y="617" width="3" height="2"/><rect x="191" y="617" width="2" height="2"/><rect x="193" y="619" width="10" height="2"/><rect x="180" y="621" width="4" height="2"/><rect x="193" y="621" width="6" height="2"/><rect x="134" y="623" width="6" height="2"/><rect x="172" y="623" width="2" height="2"/><rect x="122" y="625" width="2" height="2"/><rect x="137" y="625" width="3" height="2"/><rect x="146" y="625" width="4" height="2"/><rect x="157" y="625" width="7" height="2"/><rect x="172" y="625" width="2" height="2"/><rect x="187" y="625" width="4" height="2"/><rect x="150" y="627" width="4" height="1"/><rect x="157" y="627" width="7" height="1"/><rect x="116" y="628" width="3" height="2"/><rect x="131" y="628" width="3" height="2"/><rect x="143" y="628" width="3" height="2"/><rect x="150" y="628" width="7" height="2"/><rect x="169" y="628" width="3" height="2"/><rect x="140" y="632" width="3" height="2"/><rect x="128" y="634" width="3" height="2"/><rect x="164" y="634" width="5" height="2"/><rect x="143" y="636" width="3" height="2"/><rect x="208" y="606" width="4" height="2"/><rect x="203" y="608" width="5" height="2"/><rect x="208" y="623" width="4" height="2"/><rect x="128" y="567" width="3" height="2"/><rect x="122" y="569" width="2" height="2"/><rect x="174" y="588" width="3" height="1"/><rect x="248" y="588" width="4" height="1"/><rect x="131" y="599" width="6" height="2"/><rect x="203" y="599" width="5" height="2"/><rect x="116" y="601" width="3" height="1"/><rect x="199" y="602" width="4" height="2"/><rect x="167" y="604" width="2" height="2"/><rect x="260" y="582" width="5" height="2"/><rect x="256" y="586" width="4" height="2"/><rect x="269" y="589" width="4" height="2"/><rect x="273" y="593" width="4" height="2"/><rect x="328" y="556" width="7" height="2"/><rect x="269" y="562" width="4" height="1"/><rect x="269" y="565" width="4" height="2"/><rect x="315" y="567" width="4" height="2"/><rect x="252" y="573" width="4" height="2"/><rect x="269" y="575" width="4" height="1"/><rect x="265" y="578" width="4" height="2"/><rect x="373" y="447" width="3" height="1"/><rect x="373" y="458" width="6" height="2"/><rect x="376" y="460" width="3" height="1"/><rect x="373" y="467" width="3" height="2"/><rect x="376" y="469" width="3" height="2"/><rect x="376" y="482" width="3" height="2"/><rect x="376" y="486" width="3" height="1"/><rect x="376" y="487" width="3" height="2"/><rect x="328" y="493" width="7" height="2"/><rect x="376" y="495" width="3" height="2"/><rect x="373" y="500" width="3" height="2"/><rect x="328" y="504" width="7" height="2"/><rect x="373" y="504" width="3" height="2"/><rect x="328" y="513" width="7" height="2"/><rect x="328" y="515" width="7" height="2"/><rect x="376" y="515" width="3" height="2"/><rect x="343" y="545" width="7" height="2"/><rect x="277" y="460" width="3" height="1"/><rect x="280" y="330" width="4" height="1"/><rect x="248" y="417" width="4" height="2"/><rect x="217" y="387" width="5" height="2"/><rect x="191" y="415" width="2" height="2"/><rect x="191" y="417" width="2" height="2"/><rect x="191" y="428" width="2" height="2"/><rect x="177" y="432" width="3" height="2"/><rect x="134" y="510" width="3" height="2"/><rect x="116" y="513" width="3" height="2"/><rect x="116" y="515" width="3" height="2"/><rect x="116" y="666" width="3" height="1"/><rect x="387" y="276" width="5" height="2"/><rect x="489" y="164" width="4" height="2"/><rect x="489" y="196" width="4" height="2"/><rect x="489" y="239" width="4" height="1"/><rect x="489" y="469" width="4" height="2"/><rect x="489" y="710" width="4" height="2"/><rect x="489" y="729" width="4" height="2"/><rect x="768" y="278" width="17" height="3"/><rect x="768" y="441" width="17" height="2"/><rect x="694" y="482" width="11" height="2"/><rect x="768" y="500" width="17" height="2"/><rect x="730" y="558" width="16" height="2"/><rect x="768" y="664" width="17" height="2"/><rect x="637" y="699" width="13" height="2"/><rect x="637" y="706" width="13" height="2"/><rect x="222" y="200" width="4" height="2"/>
</g>
<g fill="#ba55d3">
<rect x="157" y="721" width="4" height="2"/><rect x="128" y="725" width="3" height="2"/><rect x="140" y="725" width="3" height="2"/><rect x="196" y="725" width="3" height="2"/><rect x="112" y="731" width="4" height="1"/><rect x="161" y="606" width="3" height="2"/><rect x="164" y="610" width="3" height="2"/><rect x="161" y="614" width="3" height="1"/><rect x="174" y="614" width="3" height="1"/><rect x="169" y="615" width="3" height="2"/><rect x="174" y="615" width="3" height="2"/><rect x="180" y="615" width="4" height="2"/><rect x="193" y="615" width="3" height="2"/><rect x="174" y="617" width="3" height="2"/><rect x="119" y="619" width="3" height="2"/><rect x="131" y="619" width="3" height="2"/><rect x="174" y="619" width="3" height="2"/><rect x="157" y="621" width="7" height="2"/><rect x="157" y="623" width="4" height="2"/><rect x="134" y="625" width="3" height="2"/><rect x="122" y="627" width="2" height="1"/><rect x="126" y="627" width="2" height="1"/><rect x="122" y="628" width="2" height="2"/><rect x="137" y="628" width="3" height="2"/><rect x="119" y="630" width="3" height="2"/><rect x="177" y="632" width="3" height="2"/><rect x="212" y="617" width="5" height="2"/><rect x="177" y="565" width="3" height="2"/><rect x="184" y="565" width="3" height="2"/><rect x="184" y="567" width="7" height="2"/><rect x="244" y="567" width="4" height="2"/><rect x="184" y="569" width="3" height="2"/><rect x="222" y="569" width="4" height="2"/><rect x="184" y="571" width="3" height="2"/><rect x="212" y="573" width="5" height="2"/><rect x="244" y="575" width="4" height="1"/><rect x="226" y="576" width="6" height="2"/><rect x="232" y="580" width="6" height="2"/><rect x="232" y="582" width="6" height="2"/><rect x="193" y="584" width="6" height="2"/><rect x="169" y="586" width="3" height="2"/><rect x="187" y="586" width="6" height="2"/><rect x="212" y="586" width="5" height="2"/><rect x="169" y="588" width="3" height="1"/><rect x="193" y="588" width="3" height="1"/><rect x="212" y="588" width="5" height="1"/><rect x="167" y="589" width="7" height="2"/><rect x="177" y="589" width="3" height="2"/><rect x="161" y="593" width="6" height="2"/><rect x="169" y="593" width="3" height="2"/><rect x="203" y="593" width="5" height="2"/><rect x="154" y="595" width="3" height="2"/><rect x="164" y="595" width="3" height="2"/><rect x="169" y="595" width="3" height="2"/><rect x="193" y="595" width="3" height="2"/><rect x="217" y="595" width="5" height="2"/><rect x="217" y="597" width="5" height="2"/><rect x="119" y="599" width="3" height="2"/><rect x="146" y="599" width="4" height="2"/><rect x="187" y="599" width="4" height="2"/><rect x="119" y="601" width="3" height="1"/><rect x="124" y="601" width="2" height="1"/><rect x="244" y="602" width="4" height="2"/><rect x="269" y="597" width="4" height="2"/><rect x="256" y="539" width="4" height="2"/><rect x="273" y="539" width="4" height="2"/><rect x="265" y="545" width="4" height="2"/><rect x="284" y="545" width="3" height="2"/><rect x="265" y="547" width="4" height="2"/><rect x="256" y="556" width="4" height="2"/><rect x="260" y="562" width="5" height="1"/><rect x="252" y="569" width="4" height="2"/><rect x="256" y="571" width="4" height="2"/><rect x="373" y="434" width="3" height="1"/><rect x="373" y="463" width="3" height="2"/><rect x="376" y="465" width="3" height="2"/><rect x="335" y="476" width="8" height="2"/><rect x="350" y="478" width="6" height="2"/><rect x="328" y="486" width="7" height="1"/><rect x="328" y="487" width="7" height="2"/><rect x="373" y="499" width="3" height="1"/><rect x="350" y="508" width="6" height="2"/><rect x="335" y="519" width="8" height="2"/><rect x="356" y="523" width="5" height="1"/><rect x="273" y="469" width="4" height="2"/><rect x="273" y="476" width="4" height="2"/><rect x="273" y="480" width="4" height="2"/><rect x="273" y="482" width="4" height="2"/><rect x="273" y="484" width="4" height="2"/><rect x="269" y="486" width="4" height="1"/><rect x="304" y="493" width="3" height="2"/><rect x="304" y="495" width="3" height="2"/><rect x="301" y="497" width="3" height="2"/><rect x="301" y="506" width="3" height="2"/><rect x="265" y="508" width="4" height="2"/><rect x="301" y="508" width="6" height="2"/><rect x="265" y="510" width="4" height="2"/><rect x="277" y="513" width="3" height="2"/><rect x="297" y="515" width="4" height="2"/><rect x="297" y="517" width="4" height="2"/><rect x="297" y="521" width="4" height="2"/><rect x="297" y="523" width="4" height="1"/><rect x="284" y="526" width="3" height="2"/><rect x="291" y="532" width="3" height="2"/><rect x="260" y="534" width="5" height="2"/><rect x="297" y="534" width="4" height="2"/><rect x="323" y="534" width="5" height="2"/><rect x="284" y="536" width="7" height="1"/><rect x="256" y="537" width="4" height="2"/><rect x="238" y="391" width="6" height="2"/><rect x="112" y="250" width="4" height="2"/><rect x="208" y="396" width="4" height="2"/><rect x="154" y="460" width="3" height="1"/><rect x="122" y="504" width="2" height="2"/><rect x="232" y="521" width="6" height="2"/><rect x="232" y="523" width="6" height="1"/><rect x="226" y="537" width="6" height="2"/><rect x="244" y="552" width="4" height="2"/><rect x="244" y="554" width="4" height="2"/><rect x="174" y="563" width="3" height="2"/><rect x="489" y="215" width="4" height="1"/><rect x="441" y="400" width="10" height="2"/><rect x="402" y="456" width="5" height="2"/><rect x="412" y="454" width="5" height="4"/><rect x="412" y="460" width="5" height="1"/><rect x="423" y="473" width="8" height="1"/><rect x="423" y="478" width="8" height="2"/><rect x="412" y="478" width="5" height="2"/><rect x="537" y="601" width="7" height="1"/><rect x="694" y="736" width="11" height="2"/><rect x="637" y="670" width="13" height="3"/><rect x="637" y="675" width="13" height="2"/><rect x="637" y="679" width="13" height="1"/><rect x="637" y="692" width="13" height="1"/><rect x="637" y="703" width="13" height="3"/><rect x="637" y="725" width="13" height="2"/><rect x="637" y="729" width="13" height="2"/><rect x="637" y="734" width="13" height="4"/><rect x="650" y="461" width="11" height="6"/><rect x="604" y="465" width="7" height="2"/>
</g>
<g fill="#ffb6c1">
<rect x="174" y="723" width="6" height="2"/><rect x="184" y="723" width="3" height="2"/><rect x="208" y="723" width="4" height="2"/><rect x="217" y="723" width="5" height="2"/><rect x="119" y="725" width="3" height="2"/><rect x="124" y="725" width="2" height="2"/><rect x="134" y="725" width="3" height="2"/><rect x="161" y="725" width="3" height="2"/><rect x="172" y="725" width="5" height="2"/><rect x="184" y="725" width="9" height="2"/><rect x="128" y="727" width="3" height="2"/><rect x="122" y="729" width="2" height="2"/><rect x="146" y="729" width="8" height="2"/><rect x="157" y="729" width="4" height="2"/><rect x="167" y="606" width="2" height="2"/><rect x="191" y="606" width="2" height="2"/><rect x="196" y="606" width="3" height="2"/><rect x="134" y="608" width="3" height="2"/><rect x="196" y="608" width="3" height="2"/><rect x="146" y="610" width="4" height="2"/><rect x="143" y="612" width="3" height="2"/><rect x="150" y="612" width="4" height="2"/><rect x="169" y="612" width="3" height="2"/><rect x="193" y="614" width="3" height="1"/><rect x="137" y="617" width="3" height="2"/><rect x="169" y="617" width="3" height="2"/><rect x="184" y="617" width="3" height="2"/><rect x="199" y="617" width="4" height="2"/><rect x="137" y="619" width="3" height="2"/><rect x="161" y="619" width="3" height="2"/><rect x="167" y="619" width="2" height="2"/><rect x="128" y="621" width="3" height="2"/><rect x="154" y="621" width="3" height="2"/><rect x="164" y="621" width="5" height="2"/><rect x="140" y="623" width="3" height="2"/><rect x="161" y="623" width="3" height="2"/><rect x="124" y="625" width="2" height="2"/><rect x="154" y="625" width="3" height="2"/><rect x="193" y="625" width="3" height="2"/><rect x="146" y="627" width="4" height="1"/><rect x="154" y="627" width="3" height="1"/><rect x="164" y="627" width="3" height="1"/><rect x="124" y="628" width="2" height="2"/><rect x="146" y="628" width="4" height="2"/><rect x="157" y="628" width="4" height="2"/><rect x="164" y="628" width="3" height="2"/><rect x="122" y="630" width="2" height="2"/><rect x="134" y="630" width="3" height="2"/><rect x="143" y="630" width="7" height="2"/><rect x="154" y="630" width="7" height="2"/><rect x="134" y="632" width="6" height="2"/><rect x="184" y="632" width="3" height="2"/><rect x="124" y="634" width="2" height="2"/><rect x="134" y="634" width="9" height="2"/><rect x="146" y="634" width="4" height="2"/><rect x="157" y="634" width="4" height="2"/><rect x="169" y="634" width="3" height="2"/><rect x="137" y="636" width="3" height="2"/><rect x="161" y="641" width="3" height="2"/><rect x="226" y="606" width="6" height="2"/><rect x="212" y="608" width="5" height="2"/><rect x="226" y="608" width="6" height="2"/><rect x="134" y="565" width="3" height="2"/><rect x="164" y="565" width="5" height="2"/><rect x="226" y="565" width="6" height="2"/><rect x="161" y="567" width="8" height="2"/><rect x="116" y="569" width="3" height="2"/><rect x="167" y="569" width="2" height="2"/><rect x="146" y="571" width="4" height="2"/><rect x="146" y="573" width="4" height="2"/><rect x="154" y="573" width="13" height="2"/><rect x="146" y="575" width="4" height="1"/><rect x="154" y="575" width="13" height="1"/><rect x="232" y="575" width="6" height="1"/><rect x="146" y="576" width="4" height="2"/><rect x="154" y="576" width="7" height="2"/><rect x="146" y="578" width="4" height="2"/><rect x="169" y="580" width="3" height="2"/><rect x="217" y="580" width="5" height="2"/><rect x="164" y="582" width="8" height="2"/><rect x="143" y="584" width="3" height="2"/><rect x="157" y="584" width="7" height="2"/><rect x="143" y="586" width="3" height="2"/><rect x="161" y="588" width="3" height="1"/><rect x="191" y="588" width="2" height="1"/><rect x="161" y="589" width="6" height="2"/><rect x="217" y="589" width="5" height="2"/><rect x="226" y="589" width="6" height="2"/><rect x="157" y="591" width="17" height="2"/><rect x="208" y="591" width="4" height="2"/><rect x="154" y="593" width="7" height="2"/><rect x="167" y="593" width="2" height="2"/><rect x="172" y="593" width="2" height="2"/><rect x="232" y="593" width="6" height="2"/><rect x="146" y="595" width="4" height="2"/><rect x="157" y="595" width="7" height="2"/><rect x="232" y="595" width="6" height="2"/><rect x="137" y="597" width="17" height="2"/><rect x="157" y="597" width="4" height="2"/><rect x="191" y="597" width="2" height="2"/><rect x="137" y="599" width="9" height="2"/><rect x="157" y="599" width="4" height="2"/><rect x="131" y="601" width="3" height="1"/><rect x="222" y="601" width="4" height="1"/><rect x="191" y="602" width="2" height="2"/><rect x="208" y="602" width="4" height="2"/><rect x="208" y="604" width="4" height="2"/><rect x="301" y="580" width="3" height="2"/><rect x="256" y="582" width="4" height="2"/><rect x="273" y="591" width="4" height="2"/><rect x="269" y="593" width="4" height="2"/><rect x="297" y="539" width="4" height="2"/><rect x="297" y="541" width="4" height="2"/><rect x="301" y="543" width="3" height="2"/><rect x="269" y="554" width="4" height="2"/><rect x="328" y="554" width="7" height="2"/><rect x="265" y="563" width="4" height="2"/><rect x="273" y="575" width="4" height="1"/><rect x="297" y="578" width="4" height="2"/><rect x="365" y="447" width="4" height="1"/><rect x="350" y="471" width="6" height="2"/><rect x="350" y="480" width="6" height="2"/><rect x="319" y="487" width="4" height="2"/><rect x="373" y="487" width="3" height="2"/><rect x="319" y="489" width="4" height="2"/><rect x="328" y="495" width="7" height="2"/><rect x="335" y="521" width="8" height="2"/><rect x="335" y="523" width="8" height="1"/><rect x="373" y="536" width="3" height="1"/><rect x="256" y="460" width="4" height="1"/><rect x="291" y="465" width="3" height="2"/><rect x="280" y="491" width="4" height="2"/><rect x="252" y="497" width="4" height="2"/><rect x="252" y="499" width="4" height="1"/><rect x="319" y="523" width="4" height="1"/><rect x="256" y="536" width="4" height="1"/><rect x="232" y="359" width="6" height="2"/><rect x="232" y="374" width="6" height="2"/><rect x="287" y="383" width="4" height="2"/><rect x="226" y="415" width="6" height="2"/><rect x="277" y="445" width="3" height="2"/><rect x="252" y="454" width="4" height="2"/><rect x="212" y="387" width="5" height="2"/><rect x="208" y="389" width="4" height="2"/><rect x="203" y="395" width="5" height="1"/><rect x="203" y="396" width="5" height="2"/><rect x="157" y="422" width="4" height="2"/><rect x="161" y="443" width="3" height="2"/><rect x="169" y="445" width="3" height="2"/><rect x="193" y="445" width="3" height="2"/><rect x="164" y="450" width="3" height="2"/><rect x="164" y="452" width="3" height="2"/><rect x="157" y="460" width="4" height="1"/><rect x="122" y="502" width="2" height="2"/><rect x="137" y="506" width="3" height="2"/><rect x="119" y="513" width="3" height="2"/><rect x="134" y="513" width="3" height="2"/><rect x="119" y="515" width="3" height="2"/><rect x="172" y="545" width="2" height="2"/><rect x="193" y="545" width="3" height="2"/><rect x="226" y="545" width="6" height="2"/><rect x="222" y="554" width="4" height="2"/><rect x="143" y="562" width="3" height="1"/><rect x="154" y="562" width="3" height="1"/><rect x="140" y="563" width="3" height="2"/><rect x="226" y="563" width="6" height="2"/><rect x="161" y="662" width="3" height="2"/><rect x="124" y="666" width="2" height="1"/><rect x="137" y="666" width="3" height="1"/><rect x="177" y="666" width="3" height="1"/><rect x="387" y="213" width="5" height="2"/><rect x="387" y="278" width="5" height="1"/><rect x="193" y="447" width="3" height="1"/><rect x="475" y="406" width="7" height="2"/><rect x="717" y="682" width="13" height="2"/><rect x="611" y="653" width="12" height="1"/>
</g>
<g fill="#3a3aff">
<rect x="212" y="723" width="5" height="2"/><rect x="112" y="727" width="4" height="2"/><rect x="112" y="729" width="4" height="2"/><rect x="208" y="729" width="4" height="2"/><rect x="143" y="615" width="3" height="2"/><rect x="150" y="615" width="4" height="2"/><rect x="119" y="623" width="3" height="2"/><rect x="126" y="634" width="2" height="2"/><rect x="212" y="610" width="5" height="2"/><rect x="212" y="619" width="5" height="2"/><rect x="222" y="571" width="4" height="2"/><rect x="248" y="573" width="4" height="2"/><rect x="212" y="578" width="5" height="2"/><rect x="208" y="580" width="4" height="2"/><rect x="199" y="582" width="4" height="2"/><rect x="244" y="584" width="4" height="2"/><rect x="199" y="586" width="9" height="2"/><rect x="187" y="588" width="4" height="1"/><rect x="180" y="589" width="4" height="2"/><rect x="193" y="589" width="3" height="2"/><rect x="174" y="599" width="3" height="2"/><rect x="244" y="599" width="4" height="2"/><rect x="128" y="601" width="3" height="1"/><rect x="174" y="601" width="3" height="1"/><rect x="157" y="604" width="4" height="2"/><rect x="177" y="604" width="3" height="2"/><rect x="273" y="597" width="4" height="2"/><rect x="269" y="599" width="4" height="2"/><rect x="269" y="601" width="4" height="1"/><rect x="260" y="612" width="5" height="2"/><rect x="256" y="541" width="4" height="2"/><rect x="256" y="554" width="4" height="2"/><rect x="335" y="554" width="7" height="2"/><rect x="328" y="558" width="7" height="2"/><rect x="269" y="563" width="4" height="2"/><rect x="256" y="569" width="4" height="2"/><rect x="315" y="571" width="4" height="2"/><rect x="373" y="430" width="6" height="2"/><rect x="373" y="443" width="3" height="2"/><rect x="373" y="445" width="3" height="2"/><rect x="373" y="460" width="3" height="1"/><rect x="373" y="465" width="3" height="2"/><rect x="373" y="474" width="6" height="2"/><rect x="376" y="489" width="3" height="2"/><rect x="373" y="495" width="3" height="2"/><rect x="365" y="497" width="4" height="2"/><rect x="373" y="497" width="6" height="2"/><rect x="356" y="500" width="5" height="2"/><rect x="376" y="500" width="3" height="2"/><rect x="376" y="502" width="3" height="2"/><rect x="373" y="506" width="3" height="2"/><rect x="373" y="508" width="3" height="2"/><rect x="365" y="510" width="4" height="2"/><rect x="373" y="510" width="3" height="2"/><rect x="373" y="512" width="3" height="1"/><rect x="350" y="515" width="6" height="2"/><rect x="356" y="524" width="5" height="2"/><rect x="265" y="482" width="4" height="2"/><rect x="304" y="486" width="3" height="1"/><rect x="315" y="499" width="4" height="1"/><rect x="277" y="508" width="3" height="2"/><rect x="265" y="512" width="4" height="1"/><rect x="265" y="519" width="4" height="2"/><rect x="297" y="519" width="4" height="2"/><rect x="273" y="528" width="4" height="2"/><rect x="260" y="530" width="5" height="2"/><rect x="277" y="289" width="3" height="2"/><rect x="269" y="359" width="4" height="2"/><rect x="260" y="424" width="5" height="2"/><rect x="260" y="426" width="5" height="2"/><rect x="112" y="248" width="4" height="2"/><rect x="112" y="395" width="4" height="5"/><rect x="112" y="545" width="4" height="2"/><rect x="112" y="547" width="4" height="2"/><rect x="112" y="549" width="4" height="1"/><rect x="226" y="558" width="6" height="2"/><rect x="177" y="563" width="3" height="2"/><rect x="489" y="190" width="4" height="2"/><rect x="489" y="209" width="4" height="2"/><rect x="489" y="246" width="4" height="2"/><rect x="489" y="270" width="4" height="2"/><rect x="460" y="244" width="8" height="2"/><rect x="489" y="344" width="4" height="2"/><rect x="489" y="357" width="4" height="2"/><rect x="489" y="474" width="4" height="2"/><rect x="489" y="536" width="4" height="1"/><rect x="768" y="231" width="17" height="2"/><rect x="730" y="556" width="16" height="2"/><rect x="637" y="666" width="13" height="4"/><rect x="637" y="673" width="13" height="2"/><rect x="637" y="697" width="13" height="2"/><rect x="637" y="710" width="13" height="4"/><rect x="637" y="719" width="13" height="2"/><rect x="637" y="723" width="13" height="2"/><rect x="637" y="731" width="13" height="1"/><rect x="650" y="454" width="11" height="7"/><rect x="650" y="467" width="11" height="19"/><rect x="650" y="537" width="11" height="4"/><rect x="650" y="556" width="11" height="6"/>
</g>
<g fill="#008000">
<rect x="167" y="725" width="2" height="2"/><rect x="177" y="725" width="3" height="2"/><rect x="193" y="725" width="3" height="2"/><rect x="208" y="725" width="4" height="2"/><rect x="217" y="725" width="15" height="2"/><rect x="167" y="727" width="59" height="2"/><rect x="169" y="729" width="15" height="2"/><rect x="187" y="729" width="21" height="2"/><rect x="212" y="729" width="10" height="2"/><rect x="191" y="612" width="2" height="2"/><rect x="191" y="614" width="2" height="1"/><rect x="193" y="623" width="3" height="2"/><rect x="217" y="610" width="9" height="2"/><rect x="222" y="612" width="4" height="2"/><rect x="208" y="614" width="4" height="1"/><rect x="222" y="614" width="10" height="1"/><rect x="208" y="615" width="4" height="2"/><rect x="226" y="615" width="6" height="2"/><rect x="208" y="617" width="4" height="2"/><rect x="222" y="619" width="10" height="2"/><rect x="222" y="621" width="4" height="2"/><rect x="222" y="623" width="4" height="2"/><rect x="222" y="625" width="4" height="2"/><rect x="203" y="627" width="5" height="1"/><rect x="226" y="567" width="6" height="2"/><rect x="232" y="589" width="6" height="2"/><rect x="248" y="589" width="4" height="2"/><rect x="226" y="591" width="6" height="2"/><rect x="238" y="591" width="6" height="2"/><rect x="226" y="593" width="6" height="2"/><rect x="238" y="593" width="6" height="2"/><rect x="222" y="597" width="16" height="2"/><rect x="226" y="599" width="12" height="2"/><rect x="226" y="601" width="12" height="1"/><rect x="222" y="602" width="4" height="2"/><rect x="232" y="602" width="6" height="2"/><rect x="191" y="604" width="2" height="2"/><rect x="226" y="604" width="12" height="2"/><rect x="304" y="580" width="7" height="2"/><rect x="304" y="582" width="3" height="2"/><rect x="297" y="584" width="4" height="2"/><rect x="304" y="584" width="3" height="2"/><rect x="265" y="586" width="4" height="2"/><rect x="294" y="586" width="3" height="2"/><rect x="291" y="588" width="3" height="1"/><rect x="301" y="588" width="3" height="1"/><rect x="284" y="589" width="3" height="2"/><rect x="297" y="589" width="4" height="2"/><rect x="284" y="591" width="3" height="2"/><rect x="297" y="591" width="4" height="2"/><rect x="284" y="593" width="3" height="2"/><rect x="294" y="593" width="3" height="2"/><rect x="284" y="595" width="3" height="2"/><rect x="260" y="597" width="5" height="2"/><rect x="284" y="597" width="7" height="2"/><rect x="280" y="599" width="11" height="2"/><rect x="280" y="601" width="4" height="1"/><rect x="277" y="602" width="7" height="2"/><rect x="252" y="606" width="8" height="2"/><rect x="269" y="606" width="4" height="2"/><rect x="252" y="608" width="17" height="2"/><rect x="252" y="610" width="17" height="2"/><rect x="252" y="612" width="8" height="2"/><rect x="252" y="614" width="4" height="1"/><rect x="323" y="539" width="5" height="2"/><rect x="315" y="541" width="4" height="2"/><rect x="273" y="543" width="4" height="2"/><rect x="315" y="543" width="4" height="2"/><rect x="323" y="543" width="5" height="2"/><rect x="273" y="545" width="4" height="2"/><rect x="315" y="547" width="4" height="2"/><rect x="323" y="549" width="5" height="1"/><rect x="269" y="550" width="4" height="2"/><rect x="269" y="552" width="8" height="2"/><rect x="315" y="552" width="4" height="2"/><rect x="315" y="554" width="4" height="2"/><rect x="277" y="558" width="3" height="2"/><rect x="319" y="558" width="4" height="2"/><rect x="265" y="560" width="4" height="2"/><rect x="277" y="560" width="3" height="2"/><rect x="315" y="565" width="4" height="2"/><rect x="307" y="569" width="4" height="2"/><rect x="260" y="571" width="5" height="2"/><rect x="265" y="576" width="4" height="2"/><rect x="294" y="578" width="3" height="2"/><rect x="307" y="578" width="4" height="2"/><rect x="323" y="426" width="5" height="2"/><rect x="328" y="443" width="7" height="2"/><rect x="323" y="463" width="5" height="2"/><rect x="323" y="465" width="5" height="2"/><rect x="328" y="508" width="7" height="2"/><rect x="328" y="519" width="7" height="2"/><rect x="280" y="461" width="4" height="2"/><rect x="291" y="467" width="3" height="2"/><rect x="291" y="469" width="3" height="2"/><rect x="291" y="473" width="3" height="1"/><rect x="277" y="474" width="7" height="2"/><rect x="291" y="474" width="3" height="2"/><rect x="297" y="476" width="4" height="2"/><rect x="284" y="478" width="3" height="2"/><rect x="277" y="480" width="3" height="2"/><rect x="284" y="484" width="3" height="2"/><rect x="280" y="487" width="4" height="2"/><rect x="291" y="489" width="3" height="2"/><rect x="280" y="493" width="4" height="2"/><rect x="297" y="502" width="4" height="2"/><rect x="280" y="504" width="7" height="2"/><rect x="301" y="504" width="3" height="2"/><rect x="277" y="506" width="3" height="2"/><rect x="284" y="506" width="3" height="2"/><rect x="277" y="515" width="3" height="2"/><rect x="277" y="517" width="3" height="2"/><rect x="328" y="521" width="7" height="2"/><rect x="297" y="524" width="4" height="2"/><rect x="265" y="526" width="4" height="2"/><rect x="277" y="526" width="3" height="2"/><rect x="284" y="528" width="3" height="2"/><rect x="280" y="530" width="4" height="2"/><rect x="273" y="532" width="4" height="2"/><rect x="277" y="534" width="3" height="2"/><rect x="323" y="536" width="5" height="1"/><rect x="284" y="537" width="3" height="2"/><rect x="323" y="537" width="5" height="2"/><rect x="273" y="278" width="4" height="1"/><rect x="277" y="287" width="3" height="2"/><rect x="269" y="315" width="4" height="2"/><rect x="260" y="348" width="5" height="2"/><rect x="284" y="357" width="3" height="2"/><rect x="284" y="359" width="3" height="2"/><rect x="269" y="361" width="4" height="2"/><rect x="273" y="365" width="4" height="2"/><rect x="277" y="369" width="3" height="1"/><rect x="301" y="370" width="3" height="2"/><rect x="256" y="372" width="4" height="2"/><rect x="280" y="374" width="4" height="2"/><rect x="291" y="376" width="3" height="2"/><rect x="256" y="378" width="4" height="2"/><rect x="265" y="378" width="4" height="2"/><rect x="256" y="380" width="4" height="2"/><rect x="260" y="385" width="5" height="2"/><rect x="260" y="387" width="9" height="2"/><rect x="260" y="389" width="5" height="2"/><rect x="260" y="391" width="5" height="2"/><rect x="291" y="391" width="3" height="2"/><rect x="291" y="393" width="3" height="2"/><rect x="232" y="395" width="6" height="1"/><rect x="260" y="395" width="5" height="1"/><rect x="291" y="396" width="3" height="2"/><rect x="232" y="398" width="6" height="2"/><rect x="256" y="398" width="4" height="2"/><rect x="252" y="400" width="8" height="2"/><rect x="244" y="402" width="4" height="2"/><rect x="232" y="404" width="6" height="2"/><rect x="226" y="406" width="6" height="2"/><rect x="280" y="406" width="4" height="2"/><rect x="226" y="408" width="6" height="1"/><rect x="232" y="409" width="6" height="2"/><rect x="226" y="411" width="12" height="2"/><rect x="269" y="411" width="4" height="2"/><rect x="291" y="411" width="3" height="2"/><rect x="232" y="413" width="6" height="2"/><rect x="232" y="415" width="6" height="2"/><rect x="256" y="415" width="4" height="2"/><rect x="238" y="419" width="6" height="2"/><rect x="260" y="422" width="5" height="2"/><rect x="280" y="422" width="4" height="2"/><rect x="291" y="428" width="3" height="2"/><rect x="291" y="430" width="3" height="2"/><rect x="291" y="432" width="3" height="2"/><rect x="291" y="445" width="3" height="2"/><rect x="291" y="447" width="3" height="1"/><rect x="222" y="406" width="4" height="2"/><rect x="217" y="413" width="5" height="2"/><rect x="208" y="426" width="4" height="2"/><rect x="226" y="430" width="6" height="2"/><rect x="212" y="432" width="5" height="2"/><rect x="226" y="432" width="6" height="2"/><rect x="208" y="435" width="4" height="2"/><rect x="208" y="437" width="4" height="2"/><rect x="217" y="441" width="5" height="2"/><rect x="217" y="443" width="5" height="2"/><rect x="193" y="543" width="3" height="2"/><rect x="184" y="666" width="3" height="1"/><rect x="191" y="666" width="2" height="1"/><rect x="199" y="666" width="4" height="1"/><rect x="768" y="309" width="17" height="2"/><rect x="768" y="526" width="17" height="2"/><rect x="768" y="602" width="17" height="2"/><rect x="730" y="734" width="16" height="2"/><rect x="212" y="239" width="5" height="1"/>
</g>
</g>
<g fill="#b0b0b0" shape-rendering="crispEdges">
<rect x="138" y="101" width="1" height="692"/>
<rect x="230" y="101" width="1" height="692"/>
<rect x="323" y="101" width="1" height="692"/>
<rect x="415" y="101" width="1" height="692"/>
<rect x="508" y="101" width="1" height="692"/>
<rect x="600" y="101" width="1" height="692"/>
<rect x="692" y="101" width="1" height="692"/>
<rect x="93" y="669" width="692" height="1"/>
<rect x="93" y="545" width="692" height="1"/>
<rect x="93" y="421" width="692" height="1"/>
<rect x="93" y="298" width="692" height="1"/>
<rect x="93" y="174" width="692" height="1"/>
</g>
<g shape-rendering="crispEdges">
</g>
<g fill="#000" shape-rendering="crispEdges">
<rect x="138" y="794" width="1" height="4.6"/>
<rect x="230" y="794" width="1" height="4.6"/>
<rect x="323" y="794" width="1" height="4.6"/>
<rect x="415" y="794" width="1" height="4.6"/>
<rect x="508" y="794" width="1" height="4.6"/>
<rect x="600" y="794" width="1" height="4.6"/>
<rect x="692" y="794" width="1" height="4.6"/>
<rect x="785" y="794" width="1" height="4.6"/>
<rect x="87.4" y="793" width="4.6" height="1"/>
<rect x="87.4" y="669" width="4.6" height="1"/>
<rect x="87.4" y="545" width="4.6" height="1"/>
<rect x="87.4" y="421" width="4.6" height="1"/>
<rect x="87.4" y="298" width="4.6" height="1"/>
<rect x="87.4" y="174" width="4.6" height="1"/>
</g>
<g stroke="#000" stroke-width="0.8" fill="none">
<line x1="92.5" y1="794" x2="92.5" y2="796.7"/>
<line x1="115.5" y1="794" x2="115.5" y2="796.7"/>
<line x1="161.5" y1="794" x2="161.5" y2="796.7"/>
<line x1="184.5" y1="794" x2="184.5" y2="796.7"/>
<line x1="207.5" y1="794" x2="207.5" y2="796.7"/>
<line x1="254.5" y1="794" x2="254.5" y2="796.7"/>
<line x1="277.5" y1="794" x2="277.5" y2="796.7"/>
<line x1="300.5" y1="794" x2="300.5" y2="796.7"/>
<line x1="346.5" y1="794" x2="346.5" y2="796.7"/>
<line x1="369.5" y1="794" x2="369.5" y2="796.7"/>
<line x1="392.5" y1="794" x2="392.5" y2="796.7"/>
<line x1="438.5" y1="794" x2="438.5" y2="796.7"/>
<line x1="461.5" y1="794" x2="461.5" y2="796.7"/>
<line x1="485.5" y1="794" x2="485.5" y2="796.7"/>
<line x1="531.5" y1="794" x2="531.5" y2="796.7"/>
<line x1="554.5" y1="794" x2="554.5" y2="796.7"/>
<line x1="577.5" y1="794" x2="577.5" y2="796.7"/>
<line x1="623.5" y1="794" x2="623.5" y2="796.7"/>
<line x1="646.5" y1="794" x2="646.5" y2="796.7"/>
<line x1="669.5" y1="794" x2="669.5" y2="796.7"/>
<line x1="716.5" y1="794" x2="716.5" y2="796.7"/>
<line x1="739.5" y1="794" x2="739.5" y2="796.7"/>
<line x1="762.5" y1="794" x2="762.5" y2="796.7"/>
<line x1="92" y1="762.5" x2="89.3" y2="762.5"/>
<line x1="92" y1="731.5" x2="89.3" y2="731.5"/>
<line x1="92" y1="700.5" x2="89.3" y2="700.5"/>
<line x1="92" y1="638.5" x2="89.3" y2="638.5"/>
<line x1="92" y1="607.5" x2="89.3" y2="607.5"/>
<line x1="92" y1="576.5" x2="89.3" y2="576.5"/>
<line x1="92" y1="514.5" x2="89.3" y2="514.5"/>
<line x1="92" y1="483.5" x2="89.3" y2="483.5"/>
<line x1="92" y1="452.5" x2="89.3" y2="452.5"/>
<line x1="92" y1="390.5" x2="89.3" y2="390.5"/>
<line x1="92" y1="359.5" x2="89.3" y2="359.5"/>
<line x1="92" y1="329.5" x2="89.3" y2="329.5"/>
<line x1="92" y1="267.5" x2="89.3" y2="267.5"/>
<line x1="92" y1="236.5" x2="89.3" y2="236.5"/>
<line x1="92" y1="205.5" x2="89.3" y2="205.5"/>
<line x1="92" y1="143.5" x2="89.3" y2="143.5"/>
<line x1="92" y1="112.5" x2="89.3" y2="112.5"/>
</g>
<g fill="#000" shape-rendering="crispEdges">
<rect x="92" y="100" width="694" height="1"/><rect x="92" y="793" width="694" height="1"/><rect x="92" y="100" width="1" height="694"/><rect x="785" y="100" width="1" height="694"/>
</g>
<g font-size="16px">
<text x="133.51" y="815" letter-spacing="0">2</text>
<text x="226.51" y="815" letter-spacing="0">4</text>
<text x="318.31" y="815" letter-spacing="0">6</text>
<text x="410.31" y="815" letter-spacing="0">8</text>
<text x="498.12" y="815" letter-spacing="-0.6">10</text>
<text x="590.27" y="815" letter-spacing="-0.75">12</text>
<text x="683.32" y="815" letter-spacing="-0.4">14</text>
<text x="775.22" y="815" letter-spacing="-0.5">16</text>
<text x="72.32" y="798.9" letter-spacing="0">0</text>
<text x="50.16" y="675" letter-spacing="0.2">200</text>
<text x="51.51" y="552" letter-spacing="0.2">400</text>
<text x="50.16" y="427.5" letter-spacing="0.2">600</text>
<text x="50.16" y="303.7" letter-spacing="0.2">800</text>
<text x="39.98" y="180" letter-spacing="0.2">1000</text>
</g>
<text x="437.9" y="841.9" font-size="24.0px" text-anchor="middle">Frequency (MHz)</text>
<text transform="translate(28.1,447.5) rotate(-90)" font-size="24.0px" text-anchor="middle" letter-spacing="-0.05">Virtual height (km)</text>
<text x="426.2" y="31.9" font-size="28.8px" text-anchor="middle" letter-spacing="0.03">NAL CADI - Sep 21 00:00:00 2025 UTC</text>
<g shape-rendering="crispEdges">
<rect x="817" y="712" width="29.5" height="90" fill="#008000"/>
<rect x="817" y="622" width="29.5" height="90" fill="#ff0000"/>
<rect x="817" y="532" width="29.5" height="90" fill="#3a3aff"/>
<rect x="817" y="442" width="29.5" height="90" fill="#ba55d3"/>
<rect x="817" y="352" width="29.5" height="90" fill="#ffb6c1"/>
<rect x="817" y="262" width="29.5" height="90" fill="#ffd700"/>
<rect x="817" y="172" width="29.5" height="90" fill="#00ffff"/>
<rect x="817" y="82" width="29.5" height="90" fill="#00bfff"/>
<g fill="#000"><rect x="816" y="82" width="31" height="1"/><rect x="816" y="802" width="31" height="1"/><rect x="816" y="82" width="1" height="721"/><rect x="846" y="82" width="1" height="721"/>
<rect x="847" y="757" width="4.6" height="1"/>
<rect x="847" y="667" width="4.6" height="1"/>
<rect x="847" y="577" width="4.6" height="1"/>
<rect x="847" y="487" width="4.6" height="1"/>
<rect x="847" y="397" width="4.6" height="1"/>
<rect x="847" y="307" width="4.6" height="1"/>
<rect x="847" y="217" width="4.6" height="1"/>
<rect x="847" y="127" width="4.6" height="1"/>
</g></g>
<g stroke="#000" stroke-width="0.8" fill="none">
<line x1="847" y1="802.5" x2="849.7" y2="802.5"/>
<line x1="847" y1="712.5" x2="849.7" y2="712.5"/>
<line x1="847" y1="622.5" x2="849.7" y2="622.5"/>
<line x1="847" y1="532.5" x2="849.7" y2="532.5"/>
<line x1="847" y1="442.5" x2="849.7" y2="442.5"/>
<line x1="847" y1="352.5" x2="849.7" y2="352.5"/>
<line x1="847" y1="262.5" x2="849.7" y2="262.5"/>
<line x1="847" y1="172.5" x2="849.7" y2="172.5"/>
<line x1="847" y1="82.5" x2="849.7" y2="82.5"/>
</g>
<g font-size="16px">
<text x="855.8" y="763.00" letter-spacing="0.15">X-mode</text>
<text x="855.8" y="673.00" letter-spacing="0.15">Vertical</text>
<text x="855.8" y="583.00" letter-spacing="0.15">NNW</text>
<text x="855.8" y="493.00" letter-spacing="0.15">W</text>
<text x="855.8" y="403.00" letter-spacing="0.15">SSW</text>
<text x="855.8" y="313.00" letter-spacing="0.15">SSE</text>
<text x="855.8" y="223.00" letter-spacing="0.15">E</text>
<text x="855.8" y="133.00" letter-spacing="0.15">NNE</text>
</g>
<text transform="translate(942.8,442.95) rotate(-90)" font-size="24.0px" text-anchor="middle" letter-spacing="0.03">Azimuth Direction</text>
</svg></body></html>
